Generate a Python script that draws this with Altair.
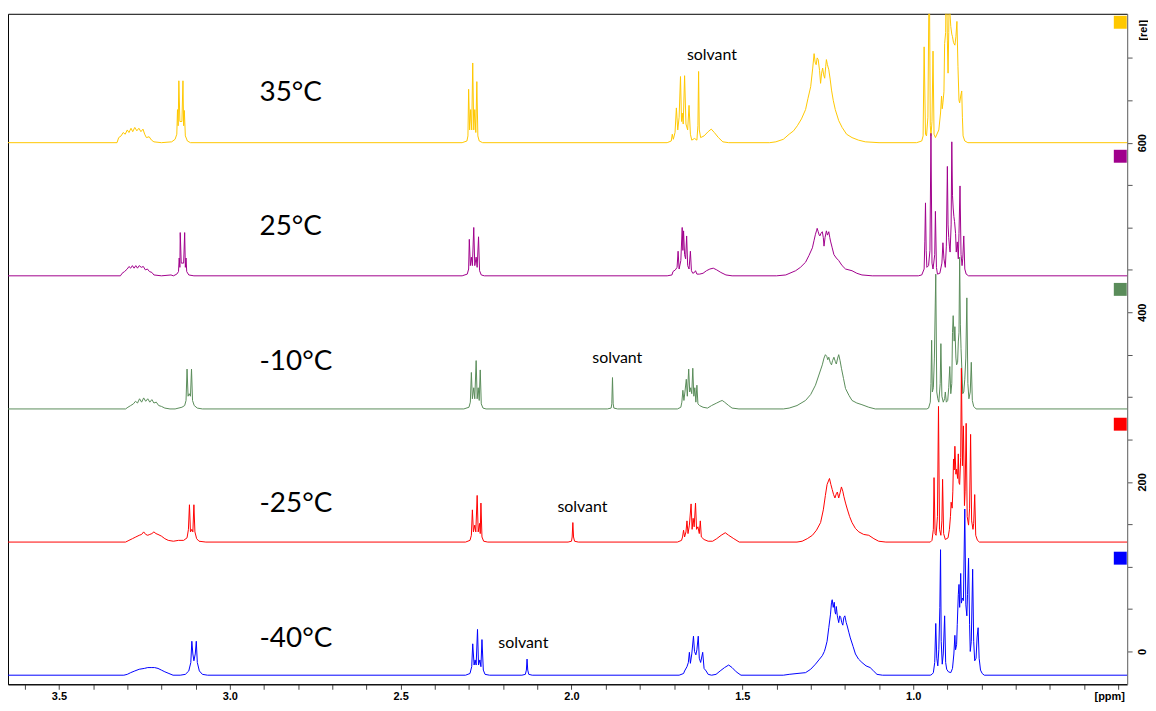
import altair as alt
import pandas as pd

# ---- series metadata ----
temps = ["35°C", "25°C", "-10°C", "-25°C", "-40°C"]
colors = ["#FFC800", "#A0008C", "#5A8C5A", "#FF0000", "#0000FF"]
baselines = [600, 443, 286, 129, -28]
temp_label_ppm = [2.913, 2.913, 2.913, 2.913, 2.913]
temp_label_rel = [658.6, 501, 341, 173.4, 15.2]
marker_ppm = [0.394, 0.394, 0.394, 0.394, 0.394]
marker_rel = [742, 584, 427, 268, 110]
solvant_ppm = [1.589, 1.866, 1.968, 2.141]
solvant_rel = [703, 346.3, 170.5, 9.4]

x_ticks = [3.6, 3.5, 3.4, 3.3, 3.2, 3.1, 3.0, 2.9, 2.8, 2.7, 2.6, 2.5, 2.4, 2.3, 2.2, 2.1,
           2.0, 1.9, 1.8, 1.7, 1.6, 1.5, 1.4, 1.3, 1.2, 1.1, 1.0, 0.9, 0.8, 0.7, 0.6, 0.5, 0.4]
y_ticks = [0, 50, 100, 150, 200, 250, 300, 350, 400, 450, 500, 550, 600, 650, 700]

# ---- spectra: [ppm, intensity above own baseline] vertices ----
spec_35 = [
    [3.660, 0], [3.330, 0], [3.325, 6], [3.318, 8], [3.312, 12], [3.306, 10], [3.300, 15], [3.295, 12],
    [3.289, 17], [3.284, 13], [3.278, 18], [3.272, 14], [3.266, 17], [3.260, 13], [3.254, 16], [3.249, 10],
    [3.244, 6], [3.236, 7], [3.229, 3], [3.222, 1], [3.200, 0], [3.170, 1], [3.160, 4], [3.155, 10],
    [3.153, 39], [3.151, 20], [3.149, 73], [3.146, 25], [3.140, 25], [3.137, 73], [3.135, 20], [3.133, 38],
    [3.130, 8], [3.124, 2], [3.115, 0],
    [2.320, 0], [2.306, 2], [2.303, 8], [2.301, 63], [2.298, 15], [2.295, 39], [2.292, 15], [2.289, 94],
    [2.286, 15], [2.283, 39], [2.280, 12], [2.277, 72], [2.274, 8], [2.270, 2], [2.260, 0],
    [1.720, 0], [1.708, 2], [1.705, 10], [1.702, 4], [1.697, 12], [1.693, 41], [1.689, 15], [1.685, 30],
    [1.681, 78], [1.678, 25], [1.676, 35], [1.673, 22], [1.669, 79], [1.665, 22], [1.660, 15], [1.656, 44],
    [1.652, 10], [1.648, 3], [1.640, 5], [1.633, 3], [1.630, 20], [1.628, 84], [1.626, 15], [1.622, 6],
    [1.612, 8], [1.600, 13], [1.591, 16], [1.582, 12], [1.570, 6], [1.557, 1], [1.540, 0],
    [1.420, 0], [1.402, 1], [1.380, 4], [1.363, 10], [1.350, 14], [1.339, 20], [1.327, 28], [1.315, 39],
    [1.308, 52], [1.300, 66], [1.294, 88], [1.290, 105], [1.287, 95], [1.284, 92], [1.281, 100], [1.278, 98],
    [1.274, 85], [1.271, 70], [1.268, 82], [1.265, 88], [1.262, 80], [1.259, 76], [1.256, 90], [1.254, 98],
    [1.251, 92], [1.247, 86], [1.243, 75], [1.239, 62], [1.234, 50], [1.228, 39], [1.218, 26], [1.208, 18],
    [1.195, 10], [1.179, 6], [1.160, 3], [1.140, 1], [1.100, 0], [0.990, 0],
    [0.975, 2], [0.971, 8], [0.968, 113], [0.964, 10], [0.961, 8], [0.957, 30], [0.953, 220], [0.950, 20],
    [0.948, 8], [0.945, 25], [0.942, 108], [0.939, 10], [0.935, 6], [0.925, 15], [0.920, 35], [0.917, 55],
    [0.915, 40], [0.913, 47], [0.910, 60], [0.908, 117], [0.905, 130], [0.903, 220], [0.900, 120], [0.898, 82],
    [0.896, 130], [0.894, 200], [0.892, 150], [0.890, 137], [0.887, 128], [0.885, 125], [0.882, 118],
    [0.878, 115], [0.875, 125], [0.872, 143], [0.869, 90], [0.866, 50], [0.864, 47], [0.861, 55],
    [0.858, 61], [0.856, 30], [0.854, 8], [0.849, 2], [0.840, 0], [0.370, 0],
]

spec_25 = [
    [3.660, 0], [3.320, 0], [3.315, 3], [3.308, 5], [3.300, 8], [3.295, 11], [3.290, 9], [3.285, 12],
    [3.280, 9], [3.275, 12], [3.270, 9], [3.265, 12], [3.259, 10], [3.253, 11], [3.247, 7], [3.241, 8],
    [3.235, 5], [3.228, 4], [3.222, 1], [3.200, 0], [3.172, 1],
    [3.165, 0], [3.155, 2], [3.150, 5], [3.148, 21], [3.146, 10], [3.145, 51], [3.142, 15], [3.135, 15],
    [3.132, 51], [3.130, 10], [3.128, 21], [3.126, 5], [3.120, 1], [3.105, 0],
    [2.320, 0], [2.305, 2], [2.301, 8], [2.299, 43], [2.296, 12], [2.293, 22], [2.290, 12], [2.286, 57],
    [2.283, 12], [2.279, 22], [2.276, 10], [2.272, 46], [2.269, 6], [2.264, 1], [2.255, 0],
    [1.720, 0], [1.706, 1], [1.703, 5], [1.696, 7], [1.691, 10], [1.688, 29], [1.685, 8], [1.680, 18],
    [1.676, 57], [1.674, 30], [1.672, 53], [1.669, 25], [1.666, 20], [1.663, 47], [1.660, 12], [1.656, 8],
    [1.652, 29], [1.649, 6], [1.645, 3], [1.640, 4], [1.637, 6], [1.633, 2], [1.625, 2],
    [1.615, 3], [1.605, 6], [1.595, 8], [1.585, 9], [1.575, 7], [1.563, 4], [1.548, 1], [1.530, 0],
    [1.400, 0], [1.373, 1], [1.344, 6], [1.330, 10], [1.315, 16], [1.305, 24], [1.295, 33], [1.290, 42],
    [1.286, 49], [1.283, 53], [1.281, 56], [1.278, 52], [1.275, 48], [1.273, 47], [1.270, 50], [1.266, 52],
    [1.263, 45], [1.261, 35], [1.258, 45], [1.254, 53], [1.251, 48], [1.247, 52], [1.244, 45], [1.242, 41],
    [1.237, 33], [1.232, 25], [1.225, 21], [1.218, 18], [1.208, 12], [1.198, 8], [1.179, 6], [1.165, 3],
    [1.150, 1], [1.120, 0], [0.985, 0],
    [0.975, 1], [0.968, 8], [0.966, 40], [0.964, 86], [0.962, 30], [0.960, 10], [0.955, 12], [0.951, 30],
    [0.948, 168], [0.945, 15], [0.942, 8], [0.937, 25], [0.935, 76], [0.932, 10], [0.929, 2], [0.922, 3],
    [0.916, 15], [0.913, 39], [0.910, 20], [0.906, 10], [0.903, 35], [0.900, 129], [0.898, 60], [0.896, 45],
    [0.894, 35], [0.892, 28], [0.889, 60], [0.887, 158], [0.885, 95], [0.883, 80], [0.881, 70], [0.879, 64],
    [0.876, 50], [0.874, 28], [0.871, 40], [0.868, 20], [0.866, 50], [0.863, 106], [0.860, 25], [0.857, 12],
    [0.855, 20], [0.852, 47], [0.849, 8], [0.845, 2], [0.838, 0], [0.370, 0],
]

spec_m10 = [
    [3.660, 0], [3.305, 0], [3.298, 2], [3.290, 4], [3.282, 6], [3.276, 9], [3.270, 7], [3.264, 12],
    [3.258, 8], [3.252, 13], [3.246, 9], [3.240, 12], [3.234, 8], [3.228, 11], [3.222, 7], [3.215, 8],
    [3.208, 4], [3.200, 3], [3.190, 1], [3.175, 0],
    [3.160, 0], [3.140, 2], [3.132, 4], [3.128, 10], [3.125, 47], [3.122, 15], [3.119, 18], [3.115, 15],
    [3.112, 47], [3.109, 10], [3.104, 4], [3.095, 1], [3.080, 0],
    [2.315, 0], [2.300, 2], [2.296, 8], [2.293, 43], [2.290, 12], [2.286, 25], [2.283, 12], [2.279, 57],
    [2.276, 12], [2.273, 25], [2.270, 10], [2.267, 46], [2.264, 6], [2.259, 1], [2.250, 0],
    [1.895, 0], [1.884, 1], [1.882, 6], [1.880, 37], [1.878, 6], [1.876, 1], [1.865, 0],
    [1.690, 0], [1.680, 2], [1.677, 8], [1.674, 22], [1.671, 10], [1.668, 20], [1.664, 35], [1.661, 15],
    [1.657, 47], [1.654, 20], [1.651, 25], [1.648, 18], [1.645, 48], [1.642, 15], [1.639, 25], [1.636, 8],
    [1.633, 28], [1.630, 6], [1.625, 4], [1.615, 2],
    [1.602, 1], [1.590, 4], [1.575, 7], [1.565, 9], [1.559, 10], [1.552, 8], [1.540, 4], [1.530, 1],
    [1.510, 0],
    [1.380, 0], [1.363, 1], [1.340, 4], [1.315, 10], [1.300, 17], [1.286, 28], [1.276, 40], [1.266, 52],
    [1.261, 60], [1.257, 64], [1.253, 62], [1.250, 58], [1.247, 61], [1.243, 55], [1.239, 52], [1.236, 57],
    [1.232, 61], [1.228, 56], [1.225, 53], [1.221, 60], [1.218, 64], [1.214, 57], [1.210, 48], [1.204, 36],
    [1.198, 24], [1.188, 16], [1.179, 10], [1.165, 7], [1.150, 5], [1.130, 2], [1.111, 0], [0.960, 0],
    [0.955, 1], [0.950, 8], [0.948, 30], [0.946, 81], [0.944, 20], [0.941, 25], [0.938, 60], [0.934, 159],
    [0.931, 20], [0.928, 12], [0.925, 8], [0.921, 30], [0.919, 77], [0.916, 15], [0.912, 8], [0.908, 12],
    [0.906, 20], [0.903, 8], [0.899, 10], [0.896, 25], [0.893, 50], [0.890, 18], [0.887, 30], [0.885, 90],
    [0.883, 110], [0.880, 80], [0.878, 97], [0.875, 60], [0.873, 52], [0.870, 55], [0.868, 79], [0.866, 90],
    [0.864, 179], [0.862, 100], [0.860, 71], [0.857, 40], [0.855, 18], [0.852, 20], [0.849, 35], [0.846, 60],
    [0.843, 131], [0.840, 30], [0.837, 12], [0.833, 20], [0.830, 55], [0.827, 10], [0.823, 3], [0.816, 0],
    [0.370, 0],
]

spec_m25 = [
    [3.660, 0], [3.305, 0], [3.295, 2], [3.285, 4], [3.275, 6], [3.265, 8], [3.258, 9], [3.252, 12],
    [3.246, 9], [3.240, 8], [3.234, 9], [3.228, 10], [3.222, 12], [3.216, 10], [3.210, 9], [3.200, 7],
    [3.190, 4], [3.180, 2], [3.165, 1], [3.150, 2],
    [3.135, 2], [3.125, 5], [3.121, 15], [3.118, 44], [3.115, 12], [3.111, 15], [3.108, 12], [3.105, 44],
    [3.102, 12], [3.097, 4], [3.090, 1], [3.070, 0],
    [2.310, 0], [2.297, 2], [2.293, 8], [2.290, 38], [2.287, 12], [2.283, 20], [2.280, 12], [2.276, 55],
    [2.273, 12], [2.269, 22], [2.267, 10], [2.265, 46], [2.262, 6], [2.257, 1], [2.245, 0],
    [2.010, 0], [2.000, 1], [1.998, 6], [1.996, 23], [1.994, 6], [1.991, 1], [1.980, 0],
    [1.690, 0], [1.678, 2], [1.675, 6], [1.672, 14], [1.669, 6], [1.665, 12], [1.662, 25], [1.659, 10],
    [1.655, 20], [1.650, 45], [1.647, 15], [1.644, 28], [1.641, 18], [1.637, 46], [1.634, 15], [1.630, 18],
    [1.626, 10], [1.623, 25], [1.620, 6], [1.612, 3], [1.600, 1],
    [1.587, 1], [1.575, 4], [1.562, 8], [1.550, 11], [1.540, 8], [1.525, 4], [1.509, 0],
    [1.340, 0], [1.325, 1], [1.310, 4], [1.295, 8], [1.283, 14], [1.271, 23], [1.263, 38], [1.257, 55],
    [1.252, 68], [1.248, 72], [1.245, 75], [1.241, 68], [1.237, 62], [1.233, 56], [1.229, 52], [1.225, 57],
    [1.222, 59], [1.218, 52], [1.214, 58], [1.210, 65], [1.206, 60], [1.203, 54], [1.198, 46], [1.193, 39],
    [1.186, 30], [1.179, 23], [1.169, 16], [1.159, 12], [1.145, 9], [1.130, 8], [1.115, 4], [1.101, 1],
    [1.080, 0], [0.950, 0],
    [0.945, 2], [0.941, 15], [0.939, 76], [0.936, 10], [0.933, 8], [0.929, 30], [0.926, 160], [0.923, 15],
    [0.919, 8], [0.916, 25], [0.914, 74], [0.911, 10], [0.906, 3], [0.898, 5], [0.894, 15], [0.891, 30],
    [0.889, 47], [0.886, 40], [0.884, 60], [0.882, 98], [0.880, 85], [0.878, 113], [0.875, 80], [0.873, 86],
    [0.870, 75], [0.868, 104], [0.866, 70], [0.864, 68], [0.861, 100], [0.859, 205], [0.856, 90],
    [0.853, 137], [0.850, 43], [0.848, 60], [0.845, 140], [0.842, 30], [0.838, 20], [0.835, 40],
    [0.832, 127], [0.829, 25], [0.825, 15], [0.823, 22], [0.820, 56], [0.817, 8], [0.812, 2], [0.806, 0],
    [0.370, 0],
]

spec_m40 = [
    [3.660, 0], [3.310, 0], [3.300, 1], [3.290, 3], [3.278, 5], [3.265, 7], [3.250, 8], [3.240, 9],
    [3.230, 9], [3.220, 9], [3.210, 8], [3.200, 6], [3.190, 4], [3.178, 2], [3.166, 0], [3.145, 0],
    [3.130, 1], [3.120, 5], [3.114, 15], [3.111, 40], [3.108, 25], [3.105, 17], [3.101, 25], [3.098, 40],
    [3.095, 15], [3.089, 5], [3.080, 1], [3.065, 0],
    [2.310, 0], [2.297, 2], [2.292, 10], [2.289, 37], [2.285, 12], [2.282, 18], [2.279, 12], [2.275, 54],
    [2.272, 12], [2.268, 18], [2.265, 10], [2.262, 42], [2.258, 6], [2.253, 1], [2.240, 0],
    [2.145, 0], [2.135, 1], [2.132, 6], [2.130, 19], [2.128, 6], [2.125, 1], [2.115, 0],
    [1.685, 0], [1.672, 2], [1.669, 5], [1.662, 10], [1.658, 15], [1.655, 27], [1.652, 14], [1.648, 25],
    [1.643, 46], [1.640, 28], [1.636, 24], [1.633, 30], [1.629, 46], [1.626, 20], [1.622, 15], [1.616, 27],
    [1.612, 8], [1.606, 5], [1.600, 1], [1.590, 0],
    [1.577, 1], [1.565, 5], [1.552, 9], [1.540, 12], [1.530, 9], [1.518, 4], [1.504, 0],
    [1.380, 0], [1.363, 1], [1.340, 2], [1.315, 3], [1.300, 7], [1.286, 13], [1.276, 18], [1.266, 23],
    [1.260, 28], [1.257, 32], [1.252, 40], [1.247, 56], [1.242, 72], [1.239, 86], [1.237, 89], [1.234, 80],
    [1.231, 86], [1.229, 75], [1.227, 72], [1.225, 81], [1.222, 70], [1.218, 62], [1.215, 70], [1.212, 68],
    [1.209, 62], [1.206, 59], [1.203, 68], [1.200, 70], [1.196, 62], [1.193, 58], [1.188, 50], [1.184, 44],
    [1.176, 34], [1.169, 25], [1.160, 19], [1.150, 15], [1.138, 11], [1.126, 9], [1.116, 5], [1.106, 1],
    [1.090, 0], [0.950, 0],
    [0.945, 1], [0.941, 3], [0.937, 15], [0.934, 61], [0.931, 20], [0.928, 11], [0.925, 30], [0.922, 80],
    [0.920, 148], [0.918, 40], [0.915, 13], [0.912, 25], [0.908, 70], [0.905, 15], [0.902, 7], [0.897, 4],
    [0.890, 3], [0.885, 8], [0.881, 25], [0.878, 47], [0.876, 30], [0.873, 36], [0.871, 60], [0.868, 95],
    [0.866, 107], [0.864, 80], [0.861, 120], [0.859, 85], [0.856, 91], [0.853, 88], [0.849, 196],
    [0.846, 83], [0.843, 70], [0.841, 95], [0.838, 138], [0.835, 60], [0.833, 28], [0.830, 40], [0.826, 125],
    [0.823, 40], [0.820, 17], [0.816, 20], [0.813, 45], [0.810, 56], [0.807, 20], [0.803, 6], [0.798, 2],
    [0.792, 0], [0.370, 0],
]

spectra = [spec_35, spec_25, spec_m10, spec_m25, spec_m40]

# ---- scales / axes ----
AX_FONT = "Liberation Sans"
x_enc = alt.X(
    "ppm:Q",
    scale=alt.Scale(domain=[3.649, 0.374], nice=False, zero=False),
    axis=alt.Axis(
        values=x_ticks,
        labelExpr="indexof(['3.5','3.0','2.5','2.0','1.5','1.0'], format(datum.value, '.1f')) >= 0 ? format(datum.value, '.1f') : ''",
        grid=False, tickSize=5, tickColor="#444", domainColor="black", domainWidth=1,
        labelFont=AX_FONT, labelFontSize=11, labelFontWeight="bold", labelColor="black",
        labelPadding=1, labelOverlap=False, labelFlush=False,
        title="[ppm]", titleX=1107, titleY=6, titleAlign="center", titleBaseline="top",
        titleFont=AX_FONT, titleFontSize=11, titleFontWeight="bold", titleColor="black",
    ),
)
y_enc = alt.Y(
    "rel:Q",
    scale=alt.Scale(domain=[-38.7, 752], nice=False, zero=False),
    axis=alt.Axis(
        orient="right", values=y_ticks,
        labelExpr="indexof([0, 200, 400, 600], datum.value) >= 0 ? datum.label : ''",
        grid=False, tickSize=5, tickColor="#555", domainColor="#888", domainWidth=1,
        labelAngle=270, labelAlign="center", labelBaseline="top", labelPadding=4,
        labelFont=AX_FONT, labelFontSize=11, labelFontWeight="bold", labelColor="black",
        labelOverlap=False, labelFlush=False,
        title="[rel]", titleAngle=270, titleX=10, titleY=16, titleAlign="center", titleBaseline="top",
        titleFont=AX_FONT, titleFontSize=11, titleFontWeight="bold", titleColor="black",
    ),
)

layers = []
for name, col, base, spec in zip(temps, colors, baselines, spectra):
    df = pd.DataFrame(spec, columns=["ppm", "inten"])
    df["rel"] = base + df["inten"]
    df["idx"] = range(len(df))
    layers.append(
        alt.Chart(df).mark_line(color=col, strokeWidth=1, clip=True).encode(
            x=x_enc, y=y_enc, order=alt.Order("idx:Q")
        )
    )

temp_df = pd.DataFrame({"ppm": temp_label_ppm, "rel": temp_label_rel, "txt": temps})
temp_layer = alt.Chart(temp_df).mark_text(
    align="left", baseline="middle", font="Lato", fontSize=28, color="black"
).encode(x=x_enc, y=y_enc, text="txt:N")

solv_df = pd.DataFrame({"ppm": solvant_ppm, "rel": solvant_rel, "txt": ["solvant"] * 4})
solv_layer = alt.Chart(solv_df).mark_text(
    align="center", baseline="middle", font="Lato", fontSize=16, color="black"
).encode(x=x_enc, y=y_enc, text="txt:N")

mark_df = pd.DataFrame({"ppm": marker_ppm, "rel": marker_rel, "col": colors})
mark_layer = alt.Chart(mark_df).mark_square(size=169, filled=True, opacity=1).encode(
    x=x_enc, y=y_enc, color=alt.Color("col:N", scale=None)
)

chart = alt.layer(*layers, temp_layer, solv_layer, mark_layer).properties(
    width=1125, height=674,
    padding={"left": 0, "top": 4, "right": 0, "bottom": 0},
    background="white",
).configure_view(stroke="black", strokeWidth=1)

chart.save("out.html", embed_options={"renderer": "svg", "actions": False})
